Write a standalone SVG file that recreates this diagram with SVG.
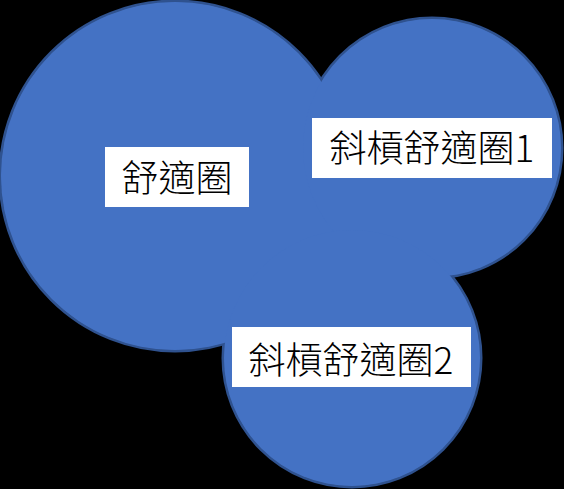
<svg xmlns="http://www.w3.org/2000/svg" width="564" height="489" viewBox="0 0 564 489">
  <style>
    .outline { fill: #4472C4; stroke: #2F528F; stroke-width: 3; }
    .fill { fill: #4472C4; stroke: none; }
    .box { fill: #FFFFFF; }
    .label { font-family: "Noto Sans CJK TC", "Noto Sans CJK SC", sans-serif; font-size: 37px; font-weight: 300; fill: #000000; text-anchor: middle; }
  </style>
  <rect x="0" y="0" width="564" height="489" fill="#000000"/>
  <g id="circles">
    <g id="outlines">
      <circle class="outline" cx="175" cy="176" r="175"/>
      <circle class="outline" cx="432" cy="148" r="130"/>
      <circle class="outline" cx="352" cy="358" r="129"/>
    </g>
    <g id="fills">
      <circle class="fill" cx="175" cy="176" r="174"/>
      <circle class="fill" cx="432" cy="148" r="129"/>
      <circle class="fill" cx="352" cy="358" r="128"/>
    </g>
  </g>
  <g id="connectors"/>
  <g id="node-comfort">
    <rect class="box" x="105" y="147" width="144" height="60"/>
    <text class="label" x="177" y="192">舒適圈</text>
  </g>
  <g id="node-slash1">
    <rect class="box" x="312" y="118" width="240" height="60"/>
    <text class="label" x="432" y="162">斜槓舒適圈1</text>
  </g>
  <g id="node-slash2">
    <rect class="box" x="232" y="327" width="239" height="60"/>
    <text class="label" x="351" y="374">斜槓舒適圈2</text>
  </g>
</svg>
